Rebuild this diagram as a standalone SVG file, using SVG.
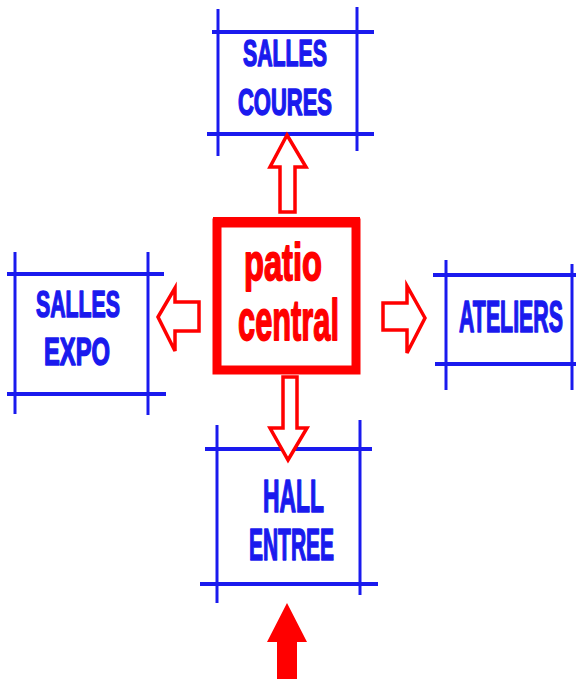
<svg xmlns="http://www.w3.org/2000/svg" width="576" height="679" viewBox="0 0 576 679">
<style>
.bl{stroke:#1a1aee;fill:none;stroke-linecap:butt}
.h{stroke-width:4}
.v{stroke-width:3}
.bt{fill:#1a1aee;stroke:#1a1aee;stroke-width:1.6;stroke-linejoin:round;font-family:"Liberation Sans Narrow","Liberation Sans",Arial,sans-serif;font-weight:bold}
.rt{fill:#ff0000;stroke:#ff0000;stroke-width:1.8;stroke-linejoin:round;font-family:"Liberation Sans Narrow","Liberation Sans",Arial,sans-serif;font-weight:bold}
.ha{fill:#ffffff;stroke:#ff0000;stroke-width:3.5;stroke-linejoin:miter}
</style>
<rect width="576" height="679" fill="#ffffff"/>
<g id="salles-coures">
<line class="bl h" x1="212" y1="32" x2="374" y2="32"/>
<line class="bl h" x1="207" y1="134" x2="374" y2="134"/>
<line class="bl v" x1="218" y1="9" x2="218" y2="156"/>
<line class="bl v" x1="357" y1="7" x2="357" y2="151"/>
<text class="bt" x="243" y="66" font-size="36" textLength="84" lengthAdjust="spacingAndGlyphs">SALLES</text>
<text class="bt" x="238" y="115" font-size="37" textLength="94" lengthAdjust="spacingAndGlyphs">COURES</text>
</g>
<g id="salles-expo">
<line class="bl h" x1="7" y1="274" x2="164" y2="274"/>
<line class="bl h" x1="7" y1="394" x2="166" y2="394"/>
<line class="bl v" x1="15" y1="252" x2="15" y2="414"/>
<line class="bl v" x1="148" y1="252" x2="148" y2="415"/>
<text class="bt" x="36" y="317" font-size="37" textLength="84" lengthAdjust="spacingAndGlyphs">SALLES</text>
<text class="bt" x="44" y="365" font-size="38" textLength="66" lengthAdjust="spacingAndGlyphs">EXPO</text>
</g>
<g id="patio-central">
<rect x="217" y="223" width="139" height="147" fill="#ffffff" stroke="#ff0000" stroke-width="9"/>
<line x1="213" y1="220" x2="360" y2="220" stroke="#ff0000" stroke-width="6"/>
<text class="rt" x="244" y="280" font-size="52" textLength="78" lengthAdjust="spacingAndGlyphs">patio</text>
<text class="rt" x="238" y="340" font-size="58" textLength="101" lengthAdjust="spacingAndGlyphs">central</text>
</g>
<g id="ateliers">
<line class="bl h" x1="433" y1="275" x2="576" y2="275"/>
<line class="bl h" x1="435" y1="364" x2="576" y2="364"/>
<line class="bl v" x1="446" y1="260" x2="446" y2="390"/>
<line class="bl v" x1="572" y1="264" x2="572" y2="390"/>
<text class="bt" x="459" y="332" font-size="44" textLength="104" lengthAdjust="spacingAndGlyphs">ATELIERS</text>
</g>
<g id="hall-entree">
<line class="bl h" x1="205" y1="449" x2="372" y2="449"/>
<line class="bl h" x1="200" y1="584" x2="378" y2="584"/>
<line class="bl v" x1="217" y1="425" x2="217" y2="603"/>
<line class="bl v" x1="360" y1="420" x2="360" y2="595"/>
<text class="bt" x="263" y="512" font-size="46" textLength="61" lengthAdjust="spacingAndGlyphs">HALL</text>
<text class="bt" x="249" y="560" font-size="44" textLength="85" lengthAdjust="spacingAndGlyphs">ENTREE</text>
</g>
<g id="connectors">
<polygon class="ha" points="287,135 306,167 295,167 295,212 280,212 280,167 270,167"/>
<polygon class="ha" points="158,317 175,288 175,302 199,302 199,331 175,331 175,351"/>
<polygon class="ha" points="425,318 407,286 407,303 383,303 383,330 407,330 407,353"/>
<polygon class="ha" points="288,460 307,428 297,428 297,377 283,377 283,428 270,428"/>
<polygon fill="#ff0000" points="287,603 307,642 297,642 297,679 277,679 277,642 267,642"/>
</g>
</svg>
